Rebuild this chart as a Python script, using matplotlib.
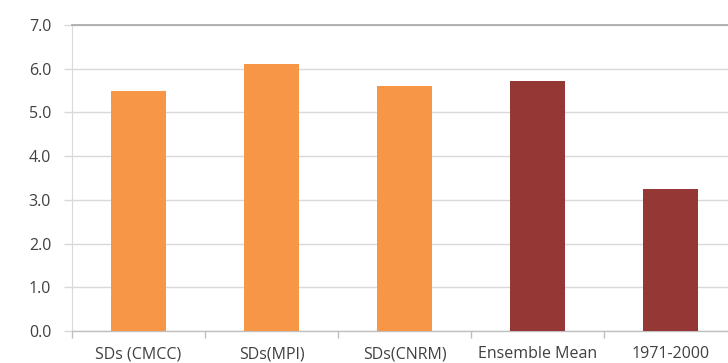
import matplotlib
matplotlib.use("Agg")
import matplotlib.pyplot as plt
from matplotlib.ticker import FixedLocator, MultipleLocator, FormatStrFormatter

categories = ["SDs (CMCC)", "SDs(MPI)", "SDs(CNRM)", "Ensemble Mean", "1971-2000"]
values = [5.5, 6.1, 5.6, 5.72, 3.25]
bar_colors = ["#F79646", "#F79646", "#F79646", "#953735", "#953735"]

plt.rcParams["font.family"] = ["Open Sans", "DejaVu Sans"]

fig = plt.figure(figsize=(7.28, 3.63), dpi=100)
ax = fig.add_axes([72 / 728, 32 / 363, 665 / 728, 306 / 363])

x = list(range(len(categories)))
ax.bar(x, values, width=0.41, color=bar_colors, zorder=3)

ax.set_xlim(-0.5, len(categories) - 0.5)
ax.set_ylim(0, 7)
ax.yaxis.set_major_locator(MultipleLocator(1.0))
ax.yaxis.set_major_formatter(FormatStrFormatter("%.1f"))
ax.grid(axis="y", color="#D9D9D9", linewidth=1.0, zorder=0)
ax.set_axisbelow(True)

ax.set_xticks(x)
ax.set_xticklabels(categories)
ax.tick_params(axis="x", which="major", length=0, pad=11, labelsize=11.5, labelcolor="#404040")
ax.xaxis.set_minor_locator(FixedLocator([i - 0.5 for i in range(len(categories) + 1)]))
ax.tick_params(axis="x", which="minor", length=5, width=1, color="#BFBFBF", direction="out")
ax.tick_params(axis="y", length=6, width=1, color="#D9D9D9", pad=9, labelsize=11.5, labelcolor="#404040")

ax.spines["right"].set_visible(False)
ax.spines["top"].set_color("#A6A6A6")
ax.spines["top"].set_linewidth(1.2)
ax.spines["left"].set_color("#D9D9D9")
ax.spines["bottom"].set_color("#BFBFBF")
ax.spines["bottom"].set_linewidth(1.0)

fig.savefig("out.png", dpi=100)
